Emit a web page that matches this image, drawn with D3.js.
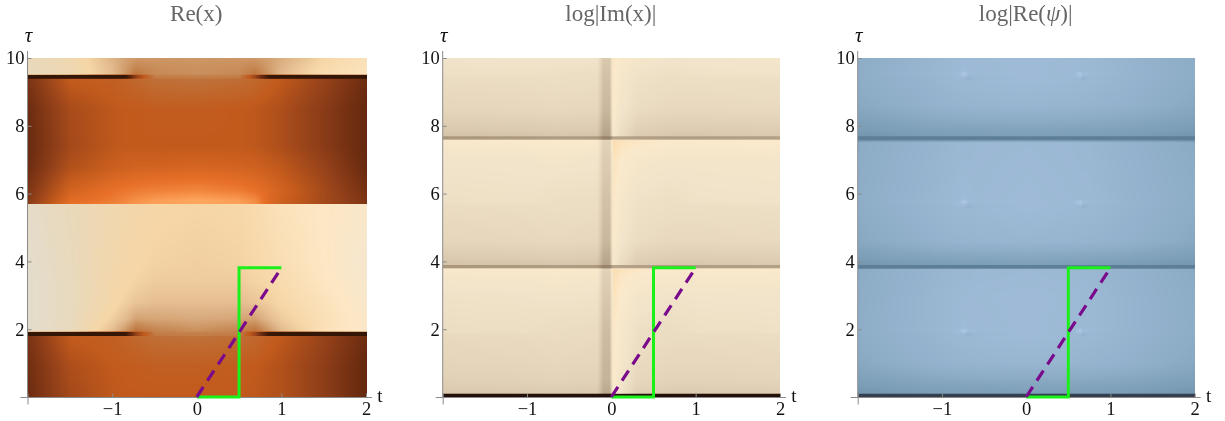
<!DOCTYPE html>
<html>
<head>
<meta charset="utf-8">
<script src="https://cdn.jsdelivr.net/npm/d3@7"></script>
<style>
  body { margin: 0; background: #fff; width: 1225px; height: 421px; overflow: hidden; position: relative; }
  canvas { position: absolute; filter: blur(0.5px); }
  svg { position: absolute; left: 0; top: 0; filter: blur(0.4px); }
  text { font-family: "Liberation Serif", serif; }
</style>
</head>
<body>
<script>
// axis ticks
var tMajor = [-2, -1, 0, 1, 2];
var tMinor = [-1.8, -1.6, -1.4, -1.2, -0.8, -0.6, -0.4, -0.2, 0.2, 0.4, 0.6, 0.8, 1.2, 1.4, 1.6, 1.8];
var tauMajor = [0, 2, 4, 6, 8, 10];
var tauMinor = [0.5, 1, 1.5, 2.5, 3, 3.5, 4.5, 5, 5.5, 6.5, 7, 7.5, 8.5, 9, 9.5];

// overlays (same in all three panels)
var greenT = [0, 0.5, 0.5, 1];
var greenTau = [0, 0, 3.81, 3.81];
var dashT = [0, 1];
var dashTau = [0, 3.81];

// ---- Re(x), one row per tau ----
var reCols = [-2, -1.5, -1, -0.85, -0.72, -0.5, 0, 0.5, 0.68, 0.85, 1, 1.5, 2];

var reTau1 = [0, 0.9, 1.72, 1.79, 1.81, 1.91];
var reVal1 = [
  [.20, .33, .39, .40, .40, .40, .40, .40, .39, .37, .36, .28, .18],
  [.21, .35, .40, .405, .41, .42, .42, .41, .40, .38, .36, .28, .18],
  [.23, .40, .42, .44, .46, .49, .50, .48, .46, .42, .39, .30, .20],
  [.23, .40, .42, .44, .47, .50, .51, .49, .47, .42, .39, .30, .20],
  [.03, .03, .03, .04, .30, .53, .54, .53, .32, .04, .03, .03, .03],
  [.03, .03, .03, .04, .30, .55, .56, .55, .32, .04, .03, .03, .03]
];
var reTau2 = [1.91, 1.94, 2.3, 2.8, 3.4, 4, 5.7];
var reVal2 = [
  [.03, .03, .03, .04, .30, .55, .56, .55, .32, .04, .03, .03, .03],
  [1, .93, .72, .62, .50, .56, .60, .56, .50, .62, .72, .86, .93],
  [1, .94, .78, .72, .65, .66, .67, .66, .65, .72, .77, .86, .92],
  [1, .94, .82, .78, .75, .73, .73, .73, .75, .78, .81, .87, .94],
  [1, .94, .83, .81, .79, .77, .77, .77, .79, .81, .83, .89, .95],
  [1, .93, .84, .82, .81, .79, .78, .79, .81, .83, .85, .90, .96],
  [.98, .92, .86, .84, .83, .81, .80, .81, .83, .85, .87, .90, .93]
];
var reTau3 = [5.7, 5.8, 6.1, 6.8, 7.4];
var reVal3 = [
  [.27, .50, .53, .55, .57, .59, .60, .59, .56, .47, .43, .33, .25],
  [.26, .48, .52, .54, .56, .58, .60, .58, .55, .47, .43, .33, .24],
  [.24, .44, .50, .51, .52, .53, .54, .52, .50, .47, .44, .33, .22],
  [.20, .36, .42, .43, .44, .44, .45, .44, .43, .41, .39, .30, .19],
  [.19, .33, .39, .40, .40, .40, .40, .40, .39, .37, .35, .27, .18]
];
var reTau4 = [7.4, 8.5, 9.3, 9.38, 9.40, 9.49];
var reVal4 = [
  [.19, .33, .39, .40, .40, .40, .40, .40, .39, .37, .35, .27, .18],
  [.20, .34, .39, .40, .40, .41, .41, .40, .39, .37, .35, .27, .18],
  [.23, .40, .42, .44, .46, .49, .50, .48, .46, .42, .39, .30, .20],
  [.23, .40, .42, .44, .47, .50, .51, .49, .47, .42, .39, .30, .20],
  [.03, .03, .03, .04, .30, .53, .54, .53, .32, .04, .03, .03, .03],
  [.03, .03, .03, .04, .30, .55, .56, .55, .32, .04, .03, .03, .03]
];
var reTau5 = [9.49, 9.52, 10];
var reVal5 = [
  [.03, .03, .03, .04, .30, .55, .56, .55, .32, .04, .03, .03, .03],
  [.93, .88, .72, .63, .52, .58, .60, .58, .52, .63, .72, .84, .88],
  [.92, .86, .70, .65, .63, .62, .62, .62, .63, .65, .68, .80, .86]
];

// ---- log|Im(x)| ----
var imCols = [-2, -1, -0.7, -0.17, -0.1, -0.02, 0.02, 0.1, 0.3, 0.7, 1, 2];
var imTau = [0, 0.09, 0.11, 0.5, 1, 1.85, 1.92, 3, 3.6, 3.78, 3.80, 3.88, 3.90, 4.6, 5.66, 5.74, 7, 7.58, 7.60, 7.68, 7.70, 8.5, 9.42, 9.48, 10];
var imVal = [
  [0, 0, 0, 0, 0, 0, 0, 0, 0, 0, 0, 0],
  [0, 0, 0, 0, 0, 0, 0, 0, 0, 0, 0, 0],
  [.58, .59, .60, .59, .45, .45, .88, .80, .63, .60, .60, .61],
  [.64, .65, .66, .65, .49, .49, .90, .82, .69, .66, .66, .67],
  [.67, .68, .69, .68, .50, .50, .91, .84, .72, .69, .69, .70],
  [.71, .72, .73, .72, .53, .53, .92, .86, .76, .73, .73, .74],
  [.74, .75, .73, .72, .53, .53, .92, .86, .76, .73, .76, .77],
  [.78, .79, .80, .79, .59, .59, .95, .90, .83, .80, .80, .81],
  [.84, .85, .86, .85, .63, .63, .98, .93, .89, .86, .86, .87],
  [.88, .89, .90, .89, .65, .65, 1, .96, .93, .90, .90, .91],
  [.39, .40, .41, .40, .33, .33, .44, .43, .42, .41, .41, .42],
  [.39, .40, .41, .40, .33, .33, .44, .43, .42, .41, .41, .42],
  [.56, .57, .58, .57, .43, .43, .86, .74, .61, .58, .58, .59],
  [.68, .69, .70, .69, .51, .51, .90, .82, .73, .70, .70, .71],
  [.73, .74, .75, .74, .55, .55, .92, .85, .78, .75, .75, .76],
  [.76, .77, .75, .74, .55, .55, .92, .85, .78, .75, .78, .79],
  [.80, .81, .82, .81, .61, .61, .95, .90, .85, .82, .82, .83],
  [.88, .89, .90, .89, .65, .65, 1, .96, .93, .90, .90, .91],
  [.39, .40, .41, .40, .33, .33, .44, .43, .42, .41, .41, .42],
  [.39, .40, .41, .40, .33, .33, .44, .43, .42, .41, .41, .42],
  [.56, .57, .58, .57, .43, .43, .86, .74, .61, .58, .58, .59],
  [.68, .69, .70, .69, .51, .51, .90, .82, .73, .70, .70, .71],
  [.73, .74, .75, .74, .55, .55, .92, .85, .78, .75, .75, .76],
  [.76, .77, .75, .74, .55, .55, .92, .85, .78, .75, .78, .79],
  [.79, .80, .81, .80, .59, .59, .93, .87, .84, .81, .81, .82]
];

// ---- log|Re(psi)| ----
var psiCols = [-2, -1.2, -0.82, -0.74, -0.69, -0.6, 0, 0.56, 0.64, 0.67, 0.74, 1.2, 2];
var psiTau = [0, 0.09, 0.11, 1, 1.78, 1.83, 1.95, 2.05, 3, 3.76, 3.80, 3.88, 3.90, 4.6, 5.55, 5.6, 5.75, 5.85, 7.5, 7.60, 7.68, 7.70, 8.6, 9.33, 9.38, 9.53, 9.63, 10];
var psiVal = [
  [0, 0, 0, 0, 0, 0, 0, 0, 0, 0, 0, 0, 0],
  [0, 0, 0, 0, 0, 0, 0, 0, 0, 0, 0, 0, 0],
  [.40, .44, .45, .45, .45, .45, .46, .45, .45, .45, .45, .44, .40],
  [.56, .66, .70, .70, .70, .71, .72, .71, .70, .70, .70, .66, .56],
  [.60, .70, .75, .75, .75, .76, .78, .76, .75, .75, .75, .70, .60],
  [.60, .70, .75, .74, .65, .74, .78, .76, .74, .65, .74, .70, .60],
  [.61, .72, .78, .90, .80, .77, .78, .77, .90, .80, .77, .71, .61],
  [.61, .71, .76, .78, .77, .76, .78, .76, .76, .76, .76, .70, .61],
  [.60, .71, .76, .76, .76, .77, .78, .77, .76, .76, .76, .70, .60],
  [.59, .69, .74, .74, .74, .75, .76, .75, .74, .74, .74, .68, .58],
  [.25, .25, .25, .25, .25, .25, .26, .25, .25, .25, .25, .25, .25],
  [.25, .25, .25, .25, .25, .25, .26, .25, .25, .25, .25, .25, .25],
  [.40, .44, .45, .45, .45, .45, .46, .45, .45, .45, .45, .44, .40],
  [.56, .66, .70, .70, .70, .71, .72, .71, .70, .70, .70, .66, .56],
  [.60, .70, .75, .75, .75, .76, .78, .76, .75, .75, .75, .70, .60],
  [.60, .70, .75, .74, .65, .74, .78, .76, .74, .65, .74, .70, .60],
  [.61, .72, .78, .90, .80, .77, .78, .77, .90, .80, .77, .71, .61],
  [.61, .71, .76, .78, .77, .76, .78, .76, .76, .76, .76, .70, .61],
  [.59, .69, .74, .74, .74, .75, .76, .75, .74, .74, .74, .68, .58],
  [.25, .25, .25, .25, .25, .25, .26, .25, .25, .25, .25, .25, .25],
  [.25, .25, .25, .25, .25, .25, .26, .25, .25, .25, .25, .25, .25],
  [.40, .44, .45, .45, .45, .45, .46, .45, .45, .45, .45, .44, .40],
  [.56, .66, .70, .70, .70, .71, .72, .71, .70, .70, .70, .66, .56],
  [.60, .70, .75, .75, .75, .76, .78, .76, .75, .75, .75, .70, .60],
  [.60, .70, .75, .74, .65, .74, .78, .76, .74, .65, .74, .70, .60],
  [.61, .72, .78, .90, .80, .77, .78, .77, .90, .80, .77, .71, .61],
  [.61, .71, .76, .78, .77, .76, .78, .76, .76, .76, .76, .70, .61],
  [.60, .70, .76, .76, .76, .77, .78, .77, .76, .76, .76, .70, .60]
];

// colour ramps
var baseRamp = d3.scaleLinear()
  .domain([0, .1, .2, .3, .4, .5, .6, .7, .8, .9, 1])
  .range(["#2a1206", "#4a1e0a", "#6c2c10", "#96421a", "#c25a1c", "#bf7038", "#c98f5c", "#deb487", "#f6d6a6", "#fde7c4", "#f0e6d6"]);
// left half of Re(x) fades to grey instead of cream
var leftRamp = d3.scaleLinear()
  .domain([0, .1, .2, .3, .4, .5, .6, .7, .8, .9, 1])
  .range(["#2a1206", "#4a1e0a", "#6c2c10", "#96421a", "#c25a1c", "#bf7038", "#c98f5c", "#deb487", "#f6d6a6", "#ebd8b6", "#e4dccc"]);
var glowRamp = d3.scaleLinear()
  .domain([0, .1, .2, .3, .4, .5, .6])
  .range(["#2a1206", "#4a1e0a", "#6c2c10", "#96421a", "#c25a1c", "#e87028", "#ffa65e"]);
var imRamp = d3.scaleLinear()
  .domain([0, .2, .4, .5, .6, .7, .8, .9, 1])
  .range(["#24100a", "#6f5a46", "#ad9a80", "#c8b69c", "#dccbb0", "#e8d9be", "#f1e4ca", "#fbe9cb", "#fbdcae"]);
var psiRamp = d3.scaleLinear()
  .domain([0, .25, .45, .6, .8, 1])
  .range(["#363f4e", "#5d7e96", "#7c9eb6", "#8dacc6", "#a0bcd8", "#bcd6f2"]);

var panels = [
  { title: "Re(x)", left: 27.5, right: 366, cols: reCols, bands: [
    { tau: reTau1, values: reVal1, ramp: baseRamp },
    { tau: reTau2, values: reVal2, ramp: baseRamp, rampLeft: leftRamp },
    { tau: reTau3, values: reVal3, ramp: glowRamp },
    { tau: reTau4, values: reVal4, ramp: baseRamp },
    { tau: reTau5, values: reVal5, ramp: baseRamp, rampLeft: leftRamp }
  ] },
  { title: "log|Im(x)|", left: 442.7, right: 780, cols: imCols, bands: [
    { tau: imTau, values: imVal, ramp: imRamp }
  ] },
  { title: "log|Re(ψ)|", left: 857.7, right: 1194.7, cols: psiCols, bands: [
    { tau: psiTau, values: psiVal, ramp: psiRamp }
  ] }
];

var plotTop = 58, plotBottom = 397;

var svg = d3.select("body").append("svg").attr("width", 1225).attr("height", 421);

panels.forEach(function (p) {
  var x = d3.scaleLinear().domain([-2, 2]).range([p.left, p.right]);
  var y = d3.scaleLinear().domain([0, 10]).range([plotBottom, plotTop]);

  // heat map: bilinear lookup in the value table for each pixel
  var w = Math.round(p.right - p.left), h = plotBottom - plotTop;
  var canvas = d3.select("body").insert("canvas", "svg")
    .attr("width", w).attr("height", h)
    .style("left", p.left + "px").style("top", plotTop + "px");
  var ctx = canvas.node().getContext("2d");
  var img = ctx.createImageData(w, h);

  for (var py = 0; py < h; py++) {
    var tau = y.invert(plotTop + py + 0.5);
    var band = p.bands.find(function (b) { return tau <= b.tau[b.tau.length - 1]; }) || p.bands[p.bands.length - 1];
    var r = Math.max(1, Math.min(band.tau.length - 1, d3.bisectRight(band.tau, tau)));
    var fr = (tau - band.tau[r - 1]) / ((band.tau[r] - band.tau[r - 1]) || 1);
    for (var px = 0; px < w; px++) {
      var t = x.invert(p.left + px + 0.5);
      var c = Math.max(1, Math.min(p.cols.length - 1, d3.bisectRight(p.cols, t)));
      var fc = (t - p.cols[c - 1]) / (p.cols[c] - p.cols[c - 1]);
      var lo = band.values[r - 1], hi = band.values[r];
      var v = (lo[c - 1] * (1 - fc) + lo[c] * fc) * (1 - fr) + (hi[c - 1] * (1 - fc) + hi[c] * fc) * fr;
      var ramp = (t < 0 && band.rampLeft) ? band.rampLeft : band.ramp;
      var col = d3.rgb(ramp(v));
      var i = 4 * (py * w + px);
      img.data[i] = col.r; img.data[i + 1] = col.g; img.data[i + 2] = col.b; img.data[i + 3] = 255;
    }
  }
  ctx.putImageData(img, 0, 0);

  var g = svg.append("g");

  // axes
  var fmtT = function (d) { return d === -2 ? "" : (d < 0 ? "\u2212" + (-d) : d); };
  var fmtTau = function (d) { return d === 0 ? "" : d; };
  var xG = g.append("g").attr("transform", "translate(0," + (plotBottom + 0.5) + ")");
  xG.call(d3.axisBottom(x).tickValues(tMinor).tickSize(-2).tickFormat(""));
  xG.call(d3.axisBottom(x).tickValues(tMajor).tickSize(-4).tickPadding(4).tickFormat(fmtT));
  g.append("g").attr("transform", "translate(0," + (plotBottom + 0.5) + ")")
    .call(d3.axisBottom(x).tickValues([-2]).tickSize(7).tickFormat(""));

  var yG = g.append("g").attr("transform", "translate(" + p.left + ",0)");
  yG.call(d3.axisLeft(y).tickValues(tauMinor).tickSize(-2).tickFormat(""));
  yG.call(d3.axisLeft(y).tickValues(tauMajor).tickSize(-4).tickPadding(3).tickFormat(fmtTau));
  g.append("g").attr("transform", "translate(" + p.left + ",0)")
    .call(d3.axisLeft(y).tickValues([0]).tickSize(7).tickFormat(""));

  g.selectAll(".domain").remove();
  g.selectAll(".tick line").attr("stroke", "#8a8a8a").attr("stroke-width", 1);
  g.selectAll(".tick text").attr("fill", "#111").style("font-size", "18.5px").style("font-family", "Liberation Serif");

  g.append("line").attr("x1", x(-2)).attr("x2", x(2) + 6).attr("y1", y(0) + 0.5).attr("y2", y(0) + 0.5)
    .attr("stroke", "#8a8a8a");
  g.append("line").attr("x1", p.left).attr("x2", p.left).attr("y1", y(10) - 7).attr("y2", y(0))
    .attr("stroke", "#8a8a8a");

  // axis names and title
  g.append("text").attr("x", x(2) + 14).attr("y", 402).attr("text-anchor", "middle")
    .style("font-size", "19px").attr("fill", "#111").text("t");
  g.append("text").attr("x", p.left + 1).attr("y", 42).attr("text-anchor", "middle")
    .style("font-size", "21px").style("font-style", "italic").attr("fill", "#111").text("\u03c4");

  var title = g.append("text").attr("x", (p.left + p.right) / 2 - 0.5).attr("y", 20.5).attr("text-anchor", "middle")
    .style("font-size", "23px").attr("fill", "#666");
  if (p.title.indexOf("ψ") >= 0) {
    title.append("tspan").text("log|Re(");
    title.append("tspan").style("font-style", "italic").text("ψ");
    title.append("tspan").text(")|");
  } else {
    title.text(p.title);
  }

  // overlays
  var line = d3.line().x(function (d) { return x(d[0]); }).y(function (d) { return y(d[1]); });
  g.append("path").datum(d3.zip(greenT, greenTau)).attr("d", line)
    .attr("fill", "none").attr("stroke", "#1af01a").attr("stroke-width", 3);
  g.append("path").datum(d3.zip(dashT, dashTau)).attr("d", line)
    .attr("fill", "none").attr("stroke", "#7a0a8c").attr("stroke-width", 3.2).attr("stroke-dasharray", "12,7.5");
});
</script>
</body>
</html>
